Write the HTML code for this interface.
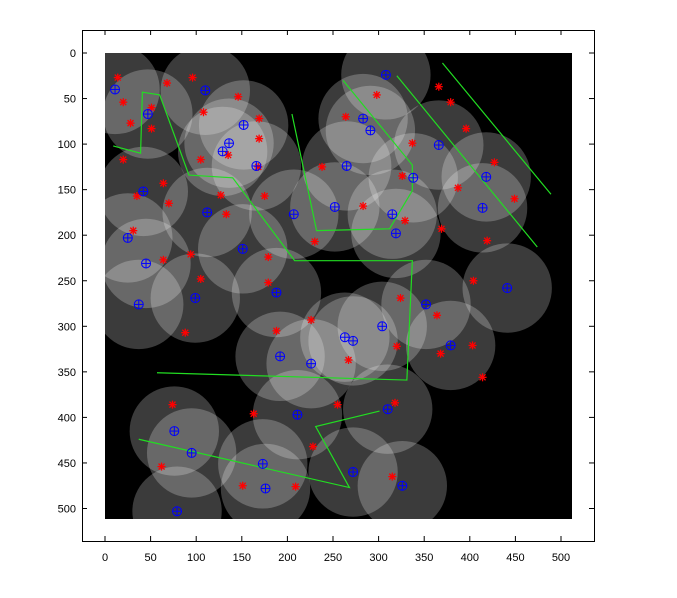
<!DOCTYPE html>
<html><head><meta charset="utf-8"><style>
html,body{margin:0;padding:0;background:#fff;}
svg{display:block;font-family:"Liberation Sans",sans-serif;}
</style></head><body>
<svg id="chart" width="677" height="598" viewBox="0 0 677 598" xmlns="http://www.w3.org/2000/svg">
<defs><clipPath id="imgclip"><rect x="105" y="53" width="467" height="466"/></clipPath></defs>
<rect x="82.5" y="30.5" width="512" height="511" fill="#fff" stroke="#000" stroke-width="1"/>
<rect x="105" y="53" width="467" height="466" fill="#000"/>
<g id="circles" clip-path="url(#imgclip)"></g>
<g id="lines" clip-path="url(#imgclip)"></g>
<g id="reds"></g>
<g id="blues"></g>
<g id="axes"></g>
</svg>
<script>
const xTicks=[0,50,100,150,200,250,300,350,400,450,500];
const yTicks=[0,50,100,150,200,250,300,350,400,450,500];
const sensorX=[11,110,47,152,136,129,166,42,112,25,45,151,207,252,308,283,291,366,265,338,418,315,319,414,441,37,99,188,192,226,211,76,95,173,176,79,352,263,272,304,379,310,272,326];
const sensorY=[40,41,67,79,99,108,124,152,175,203,231,215,177,169,24,72,85,101,124,137,136,177,198,170,258,276,269,263,333,341,397,415,439,451,478,503,276,312,316,300,321,391,460,475];
const targetX=[14,68,96,20,51,28,51,146,108,169,169,135,168,20,105,238,64,35,70,127,175,133,31,64,94,179,230,105,179,298,264,366,379,396,337,427,326,387,283,449,329,369,419,404,88,188,226,74,163,228,255,62,151,209,324,364,320,267,403,368,414,318,315];
const targetY=[27,33,27,54,60,77,83,48,65,72,94,112,125,117,117,125,143,157,165,156,157,177,195,227,221,224,207,248,252,46,70,37,54,83,99,120,135,148,168,160,184,193,206,250,307,305,293,386,396,432,386,454,475,476,269,288,322,337,321,330,356,384,465];
const wall1X=[9,39,41,60,92,140,208,337,331,57];
const wall1Y=[102,110,43,46,134,137,228,228,359,351];
const wall2X=[205,232,312,337,337,261];
const wall2Y=[67,195,193,151,123,30];
const wall3X=[320,474];
const wall3Y=[25,213];
const wall4X=[370,489];
const wall4Y=[11,155];
const wall5X=[37,268,231,301];
const wall5Y=[424,477,410,393];
const coverRadius=49;

const NS="http://www.w3.org/2000/svg";
function sx(d){return 105+d*0.912;}
function sy(d){return 53+d*0.911;}
function mk(tag,attrs,parent){const e=document.createElementNS(NS,tag);for(const k in attrs)e.setAttribute(k,attrs[k]);parent.appendChild(e);return e;}

const gc=document.getElementById('circles');
for(let i=0;i<sensorX.length;i++){
  const c=mk('circle',{cx:sx(sensorX[i]),cy:sy(sensorY[i]),r:coverRadius*0.912,fill:'#fff','fill-opacity':0.23},gc);
  
  
}
const gl=document.getElementById('lines');
[[wall1X,wall1Y],[wall2X,wall2Y],[wall3X,wall3Y],[wall4X,wall4Y],[wall5X,wall5Y]].forEach(function(w){
  const pts=w[0].map(function(v,i){return sx(v)+','+sy(w[1][i]);}).join(' ');
  const p=mk('polyline',{points:pts,fill:'none',stroke:'#22dd22','stroke-width':1.2},gl);
  
  
});
const gr=document.getElementById('reds');
for(let i=0;i<targetX.length;i++){
  const x=sx(targetX[i]),y=sy(targetY[i]);
  const g=mk('g',{stroke:'#ff0000','stroke-width':1.3},gr);
  
  
  mk('line',{x1:x-4,y1:y,x2:x+4,y2:y},g);
  mk('line',{x1:x,y1:y-4,x2:x,y2:y+4},g);
  mk('line',{x1:x-3,y1:y-3,x2:x+3,y2:y+3},g);
  mk('line',{x1:x-3,y1:y+3,x2:x+3,y2:y-3},g);
}
const gb=document.getElementById('blues');
for(let i=0;i<sensorX.length;i++){
  const x=sx(sensorX[i]),y=sy(sensorY[i]);
  const g=mk('g',{stroke:'#0000ff','stroke-width':1,fill:'none'},gb);
  
  
  mk('circle',{cx:x,cy:y,r:4.5},g);
  mk('line',{x1:x-4.5,y1:y,x2:x+4.5,y2:y},g);
  mk('line',{x1:x,y1:y-4.5,x2:x,y2:y+4.5},g);
}
const ga=document.getElementById('axes');
xTicks.forEach(function(t){
  const x=sx(t);
  mk('line',{x1:x,y1:541,x2:x,y2:536,stroke:'#000'},ga);
  mk('line',{x1:x,y1:30,x2:x,y2:35,stroke:'#000'},ga);
  const tx=mk('text',{x:x,y:561,'text-anchor':'middle','font-size':11,fill:'#000'},ga);
  tx.textContent=t;
  
  
});
yTicks.forEach(function(t){
  const y=sy(t);
  mk('line',{x1:82,y1:y,x2:87,y2:y,stroke:'#000'},ga);
  mk('line',{x1:594,y1:y,x2:589,y2:y,stroke:'#000'},ga);
  const tx=mk('text',{x:76,y:y+4,'text-anchor':'end','font-size':11,fill:'#000'},ga);
  tx.textContent=t;
  
  
});
</script>
</body></html>
